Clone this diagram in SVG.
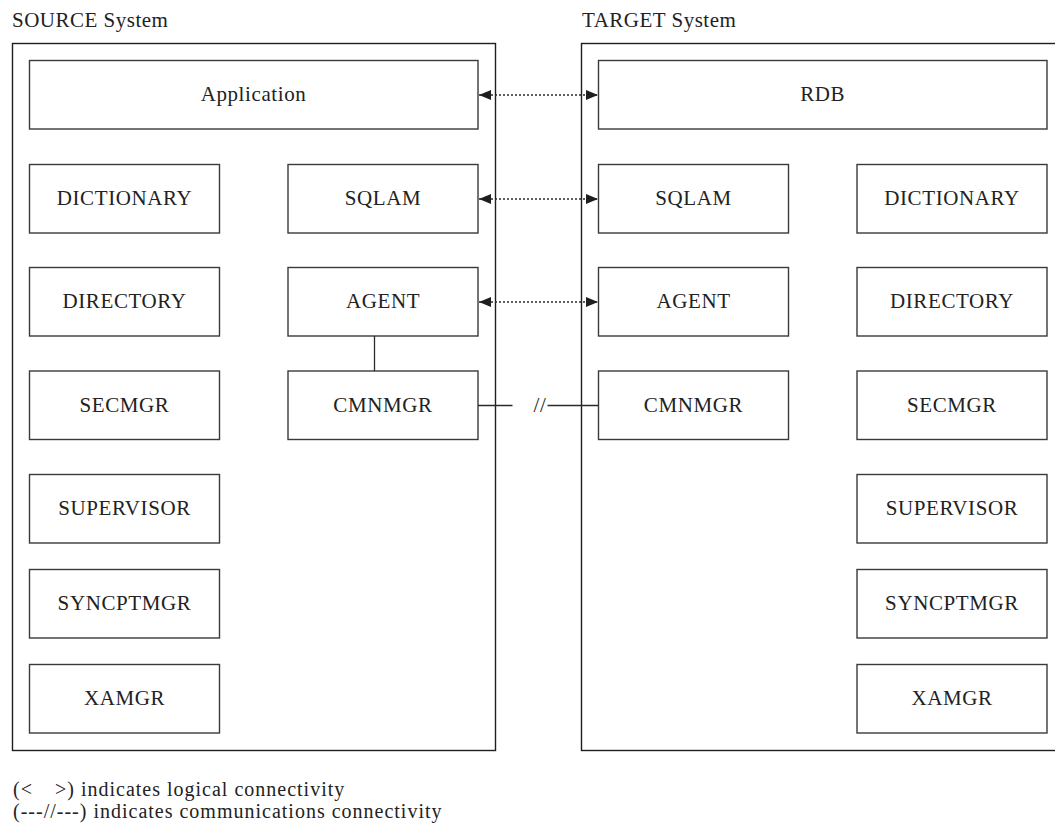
<svg xmlns="http://www.w3.org/2000/svg" width="1055" height="829" viewBox="0 0 1055 829">
  <style>
    .sys { fill: none; stroke: #1e1e1e; stroke-width: 1.4; }
    .box { fill: #ffffff; stroke: #3a3a3a; stroke-width: 1.4; }
    .lbl { font-family: "Liberation Serif", "Times New Roman", serif; font-size: 21px; letter-spacing: 0.6px; fill: #222222; text-anchor: middle; }
    .cap { font-family: "Liberation Serif", "Times New Roman", serif; font-size: 21px; letter-spacing: 0.5px; fill: #222222; }
    .note { font-family: "Liberation Serif", "Times New Roman", serif; font-size: 20px; letter-spacing: 1px; fill: #222222; }
    .logical { stroke: #2a2a2a; stroke-width: 1.3; stroke-dasharray: 2 2; fill: none; }
    .comm { stroke: #2a2a2a; stroke-width: 1.3; fill: none; }
  </style>
  <defs>
    <marker id="head" viewBox="0 0 12 10" refX="12" refY="5" markerWidth="12" markerHeight="10" markerUnits="userSpaceOnUse" orient="auto-start-reverse">
      <path d="M0,0 L12,5 L0,10 Z" fill="#1e1e1e"/>
    </marker>
  </defs>
  <rect width="1055" height="829" fill="#ffffff"/>

  <!-- system frames and titles -->
  <g id="source-system">
    <text class="cap" x="12" y="27">SOURCE System</text>
    <rect class="sys" x="12.5" y="43.5" width="483" height="707"/>
  </g>
  <g id="target-system">
    <text class="cap" x="582" y="27">TARGET System</text>
    <rect class="sys" x="581.5" y="43.5" width="480" height="707"/>
  </g>

  <!-- source nodes -->
  <g id="src-application"><rect class="box" x="29.5" y="60.5" width="448.5" height="68.5"/><text class="lbl" x="253.5" y="101">Application</text></g>
  <g id="src-dictionary"><rect class="box" x="29.5" y="164.5" width="190" height="68.5"/><text class="lbl" x="124.5" y="205">DICTIONARY</text></g>
  <g id="src-directory"><rect class="box" x="29.5" y="267.5" width="190" height="68.5"/><text class="lbl" x="124.5" y="308">DIRECTORY</text></g>
  <g id="src-secmgr"><rect class="box" x="29.5" y="371" width="190" height="68.5"/><text class="lbl" x="124.5" y="412">SECMGR</text></g>
  <g id="src-supervisor"><rect class="box" x="29.5" y="474.5" width="190" height="68.5"/><text class="lbl" x="124.5" y="515">SUPERVISOR</text></g>
  <g id="src-syncptmgr"><rect class="box" x="29.5" y="569.5" width="190" height="68.5"/><text class="lbl" x="124.5" y="610">SYNCPTMGR</text></g>
  <g id="src-xamgr"><rect class="box" x="29.5" y="664.5" width="190" height="68.5"/><text class="lbl" x="124.5" y="705">XAMGR</text></g>
  <g id="src-sqlam"><rect class="box" x="288" y="164.5" width="190" height="68.5"/><text class="lbl" x="383" y="205">SQLAM</text></g>
  <g id="src-agent"><rect class="box" x="288" y="267.5" width="190" height="68.5"/><text class="lbl" x="383" y="308">AGENT</text></g>
  <g id="src-cmnmgr"><rect class="box" x="288" y="371" width="190" height="68.5"/><text class="lbl" x="383" y="412">CMNMGR</text></g>

  <!-- target nodes -->
  <g id="tgt-rdb"><rect class="box" x="598.5" y="60.5" width="448.5" height="68.5"/><text class="lbl" x="822.75" y="101">RDB</text></g>
  <g id="tgt-sqlam"><rect class="box" x="598.5" y="164.5" width="190" height="68.5"/><text class="lbl" x="693.5" y="205">SQLAM</text></g>
  <g id="tgt-agent"><rect class="box" x="598.5" y="267.5" width="190" height="68.5"/><text class="lbl" x="693.5" y="308">AGENT</text></g>
  <g id="tgt-cmnmgr"><rect class="box" x="598.5" y="371" width="190" height="68.5"/><text class="lbl" x="693.5" y="412">CMNMGR</text></g>
  <g id="tgt-dictionary"><rect class="box" x="857" y="164.5" width="190" height="68.5"/><text class="lbl" x="952" y="205">DICTIONARY</text></g>
  <g id="tgt-directory"><rect class="box" x="857" y="267.5" width="190" height="68.5"/><text class="lbl" x="952" y="308">DIRECTORY</text></g>
  <g id="tgt-secmgr"><rect class="box" x="857" y="371" width="190" height="68.5"/><text class="lbl" x="952" y="412">SECMGR</text></g>
  <g id="tgt-supervisor"><rect class="box" x="857" y="474.5" width="190" height="68.5"/><text class="lbl" x="952" y="515">SUPERVISOR</text></g>
  <g id="tgt-syncptmgr"><rect class="box" x="857" y="569.5" width="190" height="68.5"/><text class="lbl" x="952" y="610">SYNCPTMGR</text></g>
  <g id="tgt-xamgr"><rect class="box" x="857" y="664.5" width="190" height="68.5"/><text class="lbl" x="952" y="705">XAMGR</text></g>

  <!-- connectors -->
  <g id="connectors">
    <line class="logical" x1="479" y1="95" x2="598" y2="95" marker-start="url(#head)" marker-end="url(#head)"/>
    <line class="logical" x1="479" y1="199" x2="598" y2="199" marker-start="url(#head)" marker-end="url(#head)"/>
    <line class="logical" x1="479" y1="302" x2="598" y2="302" marker-start="url(#head)" marker-end="url(#head)"/>
    <line class="comm" x1="374.5" y1="336" x2="374.5" y2="371"/>
    <line class="comm" x1="478" y1="405.5" x2="512.5" y2="405.5"/>
    <line class="comm" x1="547.5" y1="405.5" x2="598.5" y2="405.5"/>
    <text class="lbl" x="540" y="412">//</text>
  </g>

  <!-- legend -->
  <g id="legend">
    <text class="note" x="13" y="796">(&lt;<tspan dx="22">&gt;) indicates logical connectivity</tspan></text>
    <text class="note" x="13" y="818">(---//---) indicates communications connectivity</text>
  </g>
</svg>
